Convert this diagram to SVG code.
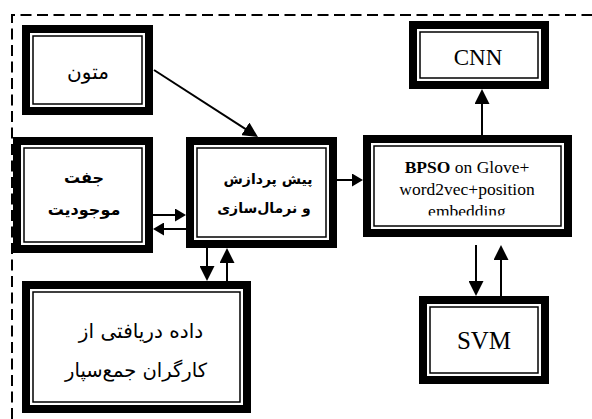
<svg xmlns="http://www.w3.org/2000/svg" width="592" height="419" viewBox="0 0 592 419">
<style>
.ob{fill:none;stroke:#000;stroke-width:8}
.ib{fill:none;stroke:#000;stroke-width:1.5}
.bg{fill:#fff}
.fa{font-family:"DejaVu Sans",sans-serif;fill:#000}
.en{font-family:"Liberation Serif",serif;fill:#000}
.ln{fill:none;stroke:#000;stroke-width:2}
</style>
<defs>
<marker id="ab" markerUnits="userSpaceOnUse" markerWidth="15" markerHeight="15" refX="11" refY="7.5" orient="auto">
<path d="M0,0 L15,7.5 L0,15 z" fill="#000"/>
</marker>
<marker id="as" markerUnits="userSpaceOnUse" markerWidth="11" markerHeight="13" refX="7" refY="6.5" orient="auto">
<path d="M0,0 L11,6.5 L0,13 z" fill="#000"/>
</marker>
<clipPath id="bpsoClip"><rect x="373" y="145" width="189" height="70.5"/></clipPath>
</defs>
<rect width="592" height="419" fill="#fff"/>
<path d="M12,419 V15 H592" fill="none" stroke="#000" stroke-width="2" stroke-dasharray="11 5.5"/>

<g id="node-motun">
<rect class="bg" x="22" y="25" width="131" height="90"/>
<rect class="ob" x="26" y="29" width="123" height="82"/>
<rect class="ib" x="33" y="36" width="109" height="68"/>
<text class="fa" x="88" y="79" font-size="20" text-anchor="middle">متون</text>
</g>

<g id="node-joft">
<rect class="bg" x="13" y="137" width="140" height="116"/>
<rect class="ob" x="17" y="141" width="132" height="108"/>
<rect class="ib" x="24" y="148" width="118" height="94"/>
<text class="fa" x="84" y="183" font-size="16" font-weight="bold" text-anchor="middle">جفت</text>
<text class="fa" x="84" y="215" font-size="16" font-weight="bold" text-anchor="middle">موجودیت</text>
</g>

<g id="node-pish">
<rect class="bg" x="186" y="137" width="151" height="111"/>
<rect class="ob" x="190" y="141" width="143" height="103"/>
<rect class="ib" x="197" y="148" width="129" height="89"/>
<text class="fa" x="268" y="184" font-size="14" font-weight="bold" text-anchor="middle">پیش پردازش</text>
<text class="fa" x="264" y="213" font-size="14" font-weight="bold" text-anchor="middle">و نرمال&#8204;سازی</text>
</g>

<g id="node-bpso">
<rect class="bg" x="363" y="135" width="209" height="102"/>
<rect class="ob" x="367" y="139" width="201" height="94"/>
<rect class="ib" x="374" y="146" width="187" height="80"/>
<g clip-path="url(#bpsoClip)">
<text class="en" x="467" y="173" font-size="17.5" text-anchor="middle"><tspan font-weight="bold">BPSO</tspan> on Glove+</text>
<text class="en" x="467" y="195" font-size="17.5" text-anchor="middle">word2vec+position</text>
<text class="en" x="467" y="217" font-size="17.5" text-anchor="middle">embedding</text>
</g>
</g>

<g id="node-cnn">
<rect class="bg" x="409" y="21" width="140" height="68"/>
<rect class="ob" x="413" y="25" width="132" height="60"/>
<rect class="ib" x="420" y="32" width="118" height="46"/>
<text class="en" x="478" y="65" font-size="23" text-anchor="middle">CNN</text>
</g>

<g id="node-svm">
<rect class="bg" x="419" y="296" width="130" height="88"/>
<rect class="ob" x="423" y="300" width="122" height="80"/>
<rect class="ib" x="430" y="307" width="108" height="66"/>
<text class="en" x="484" y="349" font-size="25" text-anchor="middle">SVM</text>
</g>

<g id="node-dade">
<rect class="bg" x="22" y="281" width="229" height="132"/>
<rect class="ob" x="26" y="285" width="221" height="124"/>
<rect class="ib" x="33" y="292" width="207" height="110"/>
<text class="fa" x="141" y="338" font-size="20" text-anchor="middle">داده دریافتی از</text>
<text class="fa" x="136" y="377" font-size="19.5" text-anchor="middle">کارگران جمع&#8204;سپار</text>
</g>

<g id="connectors">
<path class="ln" d="M154,70 L254.6,134.8" marker-end="url(#ab)"/>
<path class="ln" d="M482,135 V93" marker-end="url(#ab)"/>
<path class="ln" d="M337,180 H359" marker-end="url(#as)"/>
<path class="ln" d="M153,215 H182" marker-end="url(#as)"/>
<path class="ln" d="M186,229 H157" marker-end="url(#as)"/>
<path class="ln" d="M207,248 V277" marker-end="url(#ab)"/>
<path class="ln" d="M227,281 V252" marker-end="url(#ab)"/>
<path class="ln" d="M476,245 V292" marker-end="url(#ab)"/>
<path class="ln" d="M501,296 V249" marker-end="url(#ab)"/>
</g>
</svg>
